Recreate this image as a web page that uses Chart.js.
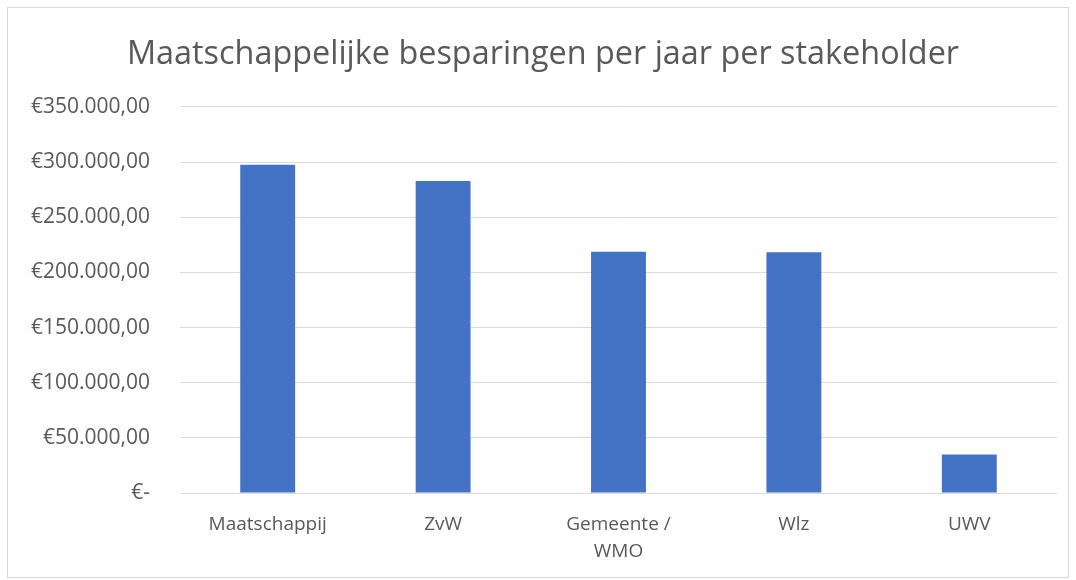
<!DOCTYPE html>
<html>
<head>
<meta charset="utf-8">
<script src="https://cdn.jsdelivr.net/npm/chart.js@4"></script>
<style>
    body { margin: 0; background: #fff; }
    #wrap { position: absolute; left: 0; top: 0; width: 1076px; height: 580px; }
    #frame { position: absolute; left: 7px; top: 7px; width: 1060px; height: 569px; border: 1px solid #d9d9d9; }
</style>
</head>
<body>
<div id="frame"></div>
<div id="wrap"><canvas id="chart" width="1076" height="580"></canvas></div>
<script>
const categories = ['Maatschappij', 'ZvW', ['Gemeente /', 'WMO'], 'Wlz', 'UWV'];
const savings = [297500, 282800, 218700, 218200, 35000];
const yTicks = [0, 50000, 100000, 150000, 200000, 250000, 300000, 350000];

function euro(v) {
    if (v === 0) return '€-';
    let s = v.toFixed(2).replace('.', ',');
    let parts = s.split(',');
    parts[0] = parts[0].replace(/\B(?=(\d{3})+(?!\d))/g, '.');
    return '€' + parts.join(',');
}

const textColor = '#595959';
Chart.defaults.font.family = '"Open Sans", Lato, sans-serif';
Chart.defaults.color = textColor;

new Chart(document.getElementById('chart'), {
    type: 'bar',
    data: {
        labels: categories,
        datasets: [{
            data: savings,
            backgroundColor: '#4472c4',
            categoryPercentage: 1,
            barPercentage: 0.313
        }]
    },
    options: {
        responsive: false,
        animation: false,
        layout: { padding: { left: 29, right: 19, top: 0, bottom: 0 } },
        plugins: {
            legend: { display: false },
            tooltip: { enabled: false },
            title: {
                display: true,
                text: 'Maatschappelijke besparingen per jaar per stakeholder',
                color: textColor,
                font: { size: 32.4, weight: 'normal' },
                padding: { top: 35, bottom: 33 }
            }
        },
        scales: {
            x: {
                grid: { display: false },
                border: { display: false },
                ticks: {
                    font: { size: 19, lineHeight: 1.42 },
                    padding: 10,
                    maxRotation: 0,
                    autoSkip: false
                },
                afterFit: function (s) { s.height = 87; }
            },
            y: {
                min: 0,
                max: 350000,
                afterBuildTicks: function (s) { s.ticks = yTicks.map(v => ({ value: v })); },
                grid: { color: '#d9d9d9', lineWidth: 1, drawTicks: false },
                border: { display: false },
                ticks: {
                    font: { size: 21 },
                    padding: 30,
                    callback: v => euro(v)
                },
                afterFit: function (s) { s.width = 151; }
            }
        }
    }
});
</script>
</body>
</html>
